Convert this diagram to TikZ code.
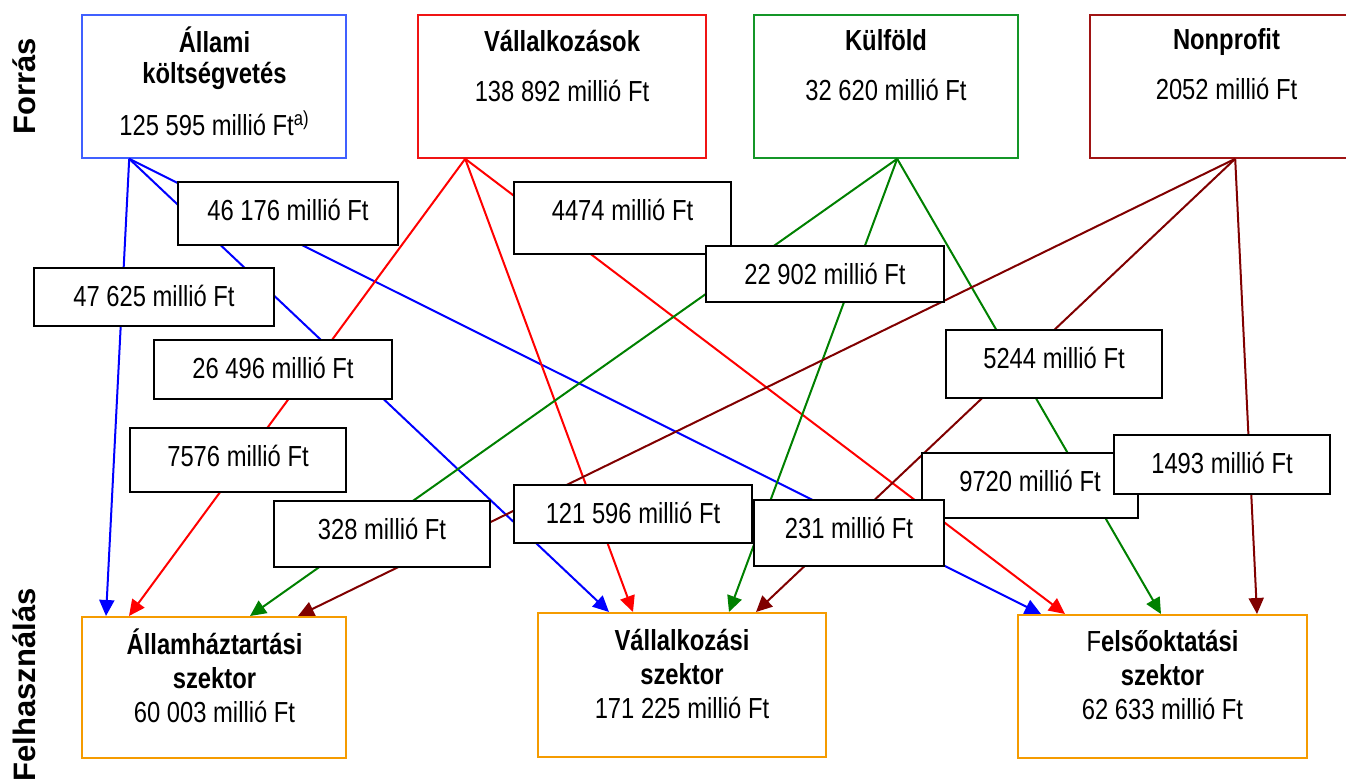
\documentclass[tikz,border=0pt]{standalone}
\usepackage{fontspec}
\setmainfont{Liberation Sans}
\newfontfamily\narrowfont[FakeStretch=0.82]{Liberation Sans}
\usetikzlibrary{arrows.meta, positioning, calc, fit}
\definecolor{srcblue}{RGB}{64,96,255}
\definecolor{srcred}{RGB}{240,20,20}
\definecolor{srcgreen}{RGB}{20,150,40}
\definecolor{srcdark}{RGB}{160,20,20}
\definecolor{lineblue}{RGB}{0,0,255}
\definecolor{linered}{RGB}{255,0,0}
\definecolor{linegreen}{RGB}{0,128,0}
\definecolor{linedark}{RGB}{128,0,0}
\definecolor{sinkorange}{RGB}{245,155,0}
\tikzset{
  srcbox/.style={rectangle, fill=white, line width=0.8pt, inner sep=0pt},
  sinkbox/.style={rectangle, draw=sinkorange, fill=white, line width=1pt, inner sep=0pt},
  amount/.style={rectangle, draw=black, fill=white, line width=1.2pt, inner sep=0pt},
  boxtext/.style={align=center, inner sep=0pt, anchor=base,
    font=\narrowfont\fontsize{14.5}{17}\selectfont},
  flow/.style={line width=1pt, -{Triangle[length=8pt, width=7.5pt]}},
  side/.style={rotate=90, inner sep=0pt, font=\bfseries\fontsize{15.5}{17}\selectfont}
}

\begin{document}
\begin{tikzpicture}[x=0.5pt, y=-0.5pt]
  \useasboundingbox (0,0) rectangle (1346,781);

  % ── Sources (top row) ─────────────────────────────────────────────────────
  \node[srcbox, draw=srcblue,  fit={(82,15) (346,158)}]   (allami) {};
  \node[srcbox, draw=srcred,   fit={(418,15) (706,158)}]  (vallalkozas) {};
  \node[srcbox, draw=srcgreen, fit={(754,15) (1018,158)}] (kulfold) {};
  \node[srcbox, draw=srcdark,  fit={(1090,15) (1363,158)}] (nonprofit) {};

  % base anchor = baseline of the last line
  \node[boxtext] (allamitxt) at (214.5,136)
    {\textbf{Állami}\\[-1.5pt]\textbf{költségvetés}\\[9pt]125 595 millió Ft\textsuperscript{a)}};
  \node[boxtext] (vallalkozastxt) at (562,102) {\textbf{Vállalkozások}\\[8pt]138 892 millió Ft};
  \node[boxtext] (kulfoldtxt) at (886,101) {\textbf{Külföld}\\[8pt]32 620 millió Ft};
  \node[boxtext] (nonprofittxt) at (1226.5,100) {\textbf{Nonprofit}\\[8pt]2052 millió Ft};

  % ── Users (bottom row) ────────────────────────────────────────────────────
  \node[sinkbox, fit={(82,617) (346,758)}]   (allamh) {};
  \node[sinkbox, fit={(538,613) (826,757)}]  (vallalk) {};
  \node[sinkbox, fit={(1018,615) (1307,758)}] (felso) {};

  \node[boxtext] (allamhtxt) at (214.5,722)
    {\textbf{Államháztartási}\\\textbf{szektor}\\60 003 millió Ft};
  \node[boxtext] (vallalktxt) at (682,718)
    {\textbf{Vállalkozási}\\\textbf{szektor}\\171 225 millió Ft};
  \node[boxtext] (felsotxt) at (1162.5,719.5)
    {\textmd{F}\textbf{elsőoktatási}\\\textbf{szektor}\\62 633 millió Ft};

  % ── Side captions ─────────────────────────────────────────────────────────
  \node[side] (forras) at (24,86) {Forrás};
  \node[side] (felhasznalas) at (24,685) {Felhasználás};

  % ── Flows (source offset / target offset) ─────────────────────────────────
  \foreach \src/\sx/\dst/\dx/\col in {
      allami/48/allamh/25/lineblue, allami/48/vallalk/72/lineblue, allami/48/felso/24/lineblue,
      vallalkozas/48/allamh/48/linered, vallalkozas/48/vallalk/96/linered, vallalkozas/48/felso/48/linered,
      kulfold/144/allamh/169/linegreen, kulfold/144/vallalk/192/linegreen, kulfold/144/felso/144/linegreen,
      nonprofit/146/allamh/217/linedark, nonprofit/146/vallalk/219/linedark, nonprofit/146/felso/240/linedark} {
    \draw[flow, color=\col] ($(\src.south west)+(\sx,0)$) -- ($(\dst.north west)+(\dx,0)$);
  }

  % ── Amounts on the flows ──────────────────────────────────────────────────
  \foreach \xa/\ya/\xb/\yb/\txt [count=\i] in {
      178/182/398/245/46 176 millió Ft,
      514/182/731/254/4474 millió Ft,
      706/246/944/302/22 902 millió Ft,
      34/268/274/326/47 625 millió Ft,
      154/340/392/399/26 496 millió Ft,
      946/330/1162/398/5244 millió Ft,
      130/428/346/492/7576 millió Ft,
      922/453/1138/518/9720 millió Ft,
      274/501/490/567/328 millió Ft,
      514/485/752/543/121 596 millió Ft,
      754/500/944/566/231 millió Ft,
      1114/435/1330/494/1493 millió Ft} {
    \node[amount, fit={(\xa,\ya) (\xb,\yb)}] (amt\i) {};
    \node[boxtext] (amttxt\i) at ($(amt\i.north)+(0,40)$) {\txt};
  }
\end{tikzpicture}
\end{document}
